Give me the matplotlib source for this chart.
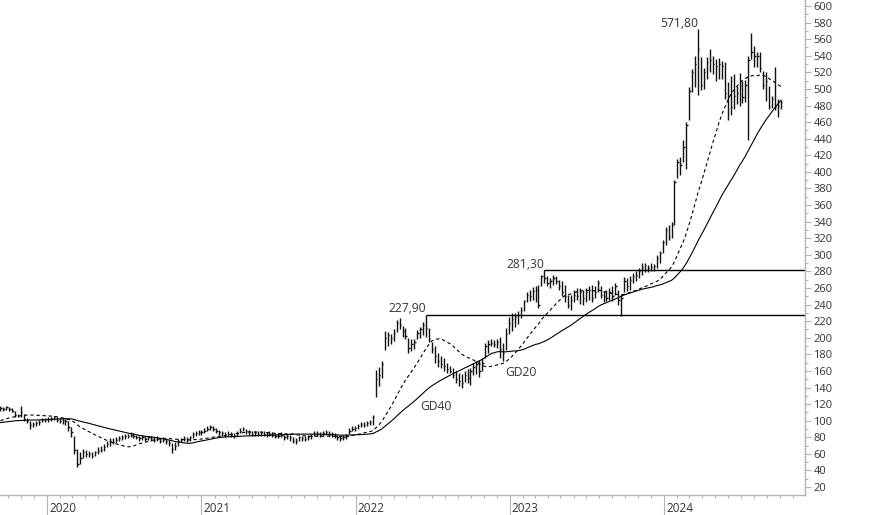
import matplotlib
matplotlib.use('Agg')

import numpy as np
import pandas as pd
from matplotlib import pyplot as plt
import matplotlib.dates as mdates
from matplotlib.ticker import MultipleLocator

# weekly closes before the first visible bar (only used to start GD20/GD40)
pre_close = [96, 97, 95, 94, 96, 98, 97, 95, 94, 93, 95, 96, 97, 95, 94, 96, 95, 94, 96, 95,
             92, 93, 95, 94, 96, 95, 93, 94, 96, 92,
             98, 100, 103, 104, 106, 107, 108, 110, 111]

# weekly bars, Sep 2019 - Oct 2024
close = [115, 114, 116, 114, 112, 107, 106, 110, 102, 100, 95, 96, 97, 99, 101, 101, 102, 103, 104, 101,
         100, 101, 100, 92, 86, 65, 48, 55, 62, 60, 60, 58, 62, 64, 65, 68, 72,
         76, 74, 77, 79, 80, 82, 81, 83, 82, 80, 79, 80, 78, 80, 79, 77, 78, 76, 77, 75,
         73, 66, 70, 76, 77, 78, 77, 80, 84, 85, 86,
         86, 88, 90, 92, 90, 88, 86, 85, 83, 84, 83, 82, 85, 88, 90, 87, 86, 84, 85, 84,
         85, 84, 83, 84, 83, 82, 82, 83, 80, 81, 80, 76, 75, 80, 79, 78, 80, 81, 84, 84,
         83, 85, 86, 84, 83, 82, 80, 79, 80, 81, 88, 90, 91, 93, 96, 95, 97, 98,
         105, 150, 155, 168, 200, 203, 200, 206, 218, 215, 208, 202, 188, 192, 195, 206, 210, 215, 212, 198,
         186, 178, 172, 168, 166, 162, 160, 155, 150, 148, 145, 155, 152, 160, 165, 168, 160, 170, 190, 192,
         194, 192, 195, 186, 182, 205,
         218, 222, 225, 228, 234, 244, 252, 250, 256, 258, 240, 274, 272, 266, 268, 272, 268, 262, 255, 250,
         240, 245, 252, 250, 255, 248, 255, 258, 248, 255, 266, 252, 250, 248, 255, 250, 262, 245, 248, 268,
         262, 270, 274, 276, 280, 285, 282, 284, 285, 286, 296, 302,
         315, 330, 322, 336, 388, 412, 408, 430, 456, 498, 520, 530, 548, 505, 520, 532, 535, 530, 528, 530,
         528, 495, 490, 478, 492, 495, 505, 490, 505, 535, 545, 540, 540, 525, 505, 510, 480, 488, 478, 480, 484]

high = [118, 117, 118, 117, 115, 112, 108, 118, 108, 103, 100, 99, 100, 101, 103, 103, 104, 105, 106, 105,
        103, 103, 102, 100, 92, 82, 66, 62, 66, 65, 63, 62, 64, 68, 70, 72, 76,
        79, 79, 80, 82, 83, 84, 84, 86, 85, 83, 82, 83, 81, 82, 82, 80, 81, 79, 80, 78,
        77, 73, 74, 78, 79, 81, 80, 82, 86, 88, 89,
        89, 91, 93, 95, 93, 91, 89, 88, 86, 87, 86, 85, 88, 91, 92, 90, 89, 87, 88, 87,
        88, 87, 86, 87, 86, 85, 85, 86, 83, 84, 83, 80, 79, 82, 82, 81, 83, 84, 87, 87,
        86, 88, 89, 87, 86, 85, 83, 82, 83, 84, 91, 93, 94, 96, 99, 98, 100, 101,
        107, 161, 165, 172, 208, 207, 205, 210, 221, 224, 214, 212, 200, 198, 198, 209, 213, 219, 227.9, 212,
        195, 190, 182, 178, 175, 170, 166, 163, 160, 158, 156, 160, 162, 164, 170, 172, 173, 175, 194, 197,
        198, 197, 198, 201, 194, 212,
        225, 230, 230, 232, 237, 246, 255, 258, 261, 262, 264, 276, 281.3, 274, 272, 276, 275, 270, 268, 264,
        252, 251, 258, 260, 260, 258, 260, 262, 264, 262, 270, 262, 256, 257, 260, 262, 266, 258, 253, 273,
        272, 274, 278, 280, 284, 290, 290, 288, 290, 289, 300, 305,
        318, 334, 336, 340, 390, 416, 418, 438, 460, 502, 524, 540, 571.8, 538, 525, 538, 548, 540, 536, 537,
        534, 532, 508, 515, 518, 503, 519, 510, 511, 540, 567, 552, 545, 545, 522, 520, 503, 492, 526, 488, 487]

low = [112, 112, 113, 112, 110, 105, 104, 105, 100, 97, 90, 92, 93, 95, 98, 99, 99, 100, 101, 98,
       97, 96, 95, 88, 80, 60, 44, 48, 55, 56, 56, 55, 57, 60, 62, 64, 68,
       70, 72, 73, 76, 77, 78, 79, 80, 79, 78, 76, 77, 75, 77, 76, 74, 75, 73, 74, 72,
       70, 61, 65, 70, 74, 75, 74, 76, 79, 82, 83,
       83, 85, 87, 89, 87, 85, 83, 82, 80, 81, 80, 79, 82, 85, 87, 84, 83, 81, 82, 81,
       82, 81, 80, 81, 80, 79, 79, 80, 77, 78, 76, 73, 72, 76, 76, 75, 77, 78, 81, 81,
       80, 82, 83, 81, 80, 79, 77, 76, 77, 78, 84, 87, 88, 90, 92, 92, 94, 95,
       95, 128, 142, 152, 185, 190, 193, 196, 207, 210, 201, 198, 182, 184, 186, 199, 200, 203, 201, 195,
       182, 170, 165, 163, 160, 158, 158, 152, 145, 142, 140, 147, 146, 143, 155, 156, 153, 160, 176, 182,
       190, 189, 188, 176, 172, 185,
       205, 208, 213, 216, 224, 232, 243, 244, 246, 243, 236, 262, 266, 262, 260, 264, 265, 258, 250, 243,
       236, 233, 243, 246, 241, 240, 243, 246, 243, 248, 255, 248, 243, 244, 245, 244, 251, 240, 226, 255,
       256, 258, 266, 268, 272, 276, 279, 279, 280, 280, 284, 290,
       302, 312, 318, 320, 336, 392, 396, 412, 404, 462, 496, 502, 493, 499, 500, 512, 520, 518, 510, 512,
       512, 488, 462, 468, 476, 482, 480, 483, 484, 438, 536, 526, 526, 520, 500, 486, 476, 477, 474, 466, 476]

peaks = [227.9, 281.3, 571.8]
levels = [227.9, 281.3]
years = [2020, 2021, 2022, 2023, 2024]

dates = pd.date_range('2019-09-13', periods=len(close), freq='7D')
series = pd.Series(pre_close + close, dtype=float)
gd20 = series.rolling(20).mean().values[len(pre_close):]
gd40 = series.rolling(40).mean().values[len(pre_close):]

txt = '#333333'
grey = '#b4b4b4'
plt.rcParams['font.family'] = ['Open Sans', 'DejaVu Sans']

fig = plt.figure(figsize=(8.74, 5.15), dpi=100)
ax = fig.add_axes([0, 20 / 515, 805 / 874, 495 / 515])

x0 = pd.Timestamp('2019-09-12')
x1 = pd.Timestamp('2024-11-30')

# HLC bars
ax.vlines(dates, low, high, color='#111111', lw=1.0)
ax.hlines(close, dates, dates + pd.Timedelta(days=3), color='#111111', lw=1.0)

# moving averages
ax.plot(dates, gd20, color='black', lw=0.8, ls=(0, (3, 2.5)))
ax.plot(dates, gd40, color='black', lw=0.8)

for v in levels:
    i = high.index(v)
    ax.hlines(v, dates[i], x1, color='black', lw=1.0)

for v in peaks:
    i = high.index(v)
    ax.annotate(('%.2f' % v).replace('.', ','), xy=(dates[i], v), xytext=(0, 2),
                textcoords='offset points', ha='right', va='baseline', fontsize=8.7, color=txt)

ax.text(pd.Timestamp('2022-07-09'), 116.5, 'GD40', ha='center', va='center', fontsize=8.7, color=txt)
ax.text(pd.Timestamp('2023-01-28'), 157.5, 'GD20', ha='center', va='center', fontsize=8.7, color=txt)

ax.set_xlim(x0, x1)
ax.set_ylim(10.4, 607.2)

for s in ['left', 'top']:
    ax.spines[s].set_visible(False)
for s in ['right', 'bottom']:
    ax.spines[s].set_color(grey)
    ax.spines[s].set_linewidth(1.0)

ax.yaxis.tick_right()
ax.set_yticks(np.arange(20, 601, 20))
ax.yaxis.set_minor_locator(MultipleLocator(10))
ax.tick_params(axis='y', which='major', length=4.5, width=0.8, color=grey,
               labelsize=8, labelcolor=txt, pad=1.5)
ax.tick_params(axis='y', which='minor', length=2.5, width=0.8, color=grey)

ax.xaxis.set_major_locator(mdates.YearLocator())
ax.xaxis.set_minor_locator(mdates.MonthLocator())
ax.tick_params(axis='x', which='major', length=14.4, width=0.8, color=grey, labelbottom=False)
ax.tick_params(axis='x', which='minor', length=2.5, width=0.8, color=grey)

for yr in years:
    ax.annotate(str(yr), xy=(pd.Timestamp(yr, 1, 1), 0), xycoords=('data', 'axes fraction'),
                xytext=(1.5, -9.4), textcoords='offset points', ha='left', va='center',
                fontsize=8.5, color=txt, annotation_clip=False)

fig.savefig('out.png', dpi=100)
